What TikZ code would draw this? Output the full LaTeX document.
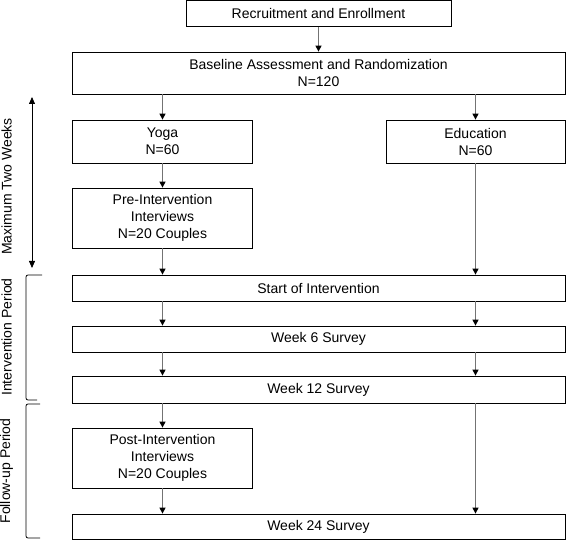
\documentclass[tikz,border=0pt]{standalone}
\usepackage{fontspec}
\setmainfont{Liberation Sans}
\usetikzlibrary{arrows.meta}

\tikzset{
  stage/.style={draw,line width=0.8pt,rectangle,inner sep=0pt,align=center,
    font=\fontsize{14}{17}\selectfont},
  flow/.style={draw=black!55,line width=1.2pt,
    -{Triangle[width=6pt,length=6pt,color=black,fill=black]}},
  period/.style={rotate=90,inner sep=0pt,font=\fontsize{14}{17}\selectfont},
  bracket/.style={draw,line width=0.8pt,rounded corners=2pt},
}

\begin{document}
\begin{tikzpicture}[x=1pt,y=-1pt]
\useasboundingbox (0,0) rectangle (566,540);

% boxes
\node[stage,minimum width=265,minimum height=26] (recruit) at (318.5,13.5) {Recruitment and Enrollment};
\node[stage,minimum width=493,minimum height=42] (baseline) at (318.5,73) {Baseline Assessment and Randomization\\N=120};
\node[stage,minimum width=180,minimum height=43] (yoga) at (162.5,141.5) {Yoga\\N=60};
\node[stage,minimum width=179,minimum height=43] (educ) at (475.5,141.5) {Education\\N=60};
\node[stage,minimum width=180,minimum height=60] (preint) at (162.5,218) {Pre-Intervention\\Interviews\\N=20 Couples};
\node[stage,minimum width=493,minimum height=26] (start) at (318.5,288) {Start of Intervention};
\node[stage,minimum width=493,minimum height=26] (week6) at (318.5,339) {Week 6 Survey};
\node[stage,minimum width=493,minimum height=27] (week12) at (318.5,389.5) {Week 12 Survey};
\node[stage,minimum width=180,minimum height=60] (postint) at (162.5,458) {Post-Intervention\\Interviews\\N=20 Couples};
\node[stage,minimum width=493,minimum height=25] (week24) at (318.5,526.5) {Week 24 Survey};

% arrows
\draw[flow] (recruit.south) -- (baseline.north);
\draw[flow] (baseline.south -| yoga.north) -- (yoga.north);
\draw[flow] (baseline.south -| educ.north) -- (educ.north);
\draw[flow] (yoga.south) -- (preint.north);
\draw[flow] (preint.south) -- (start.north -| preint.south);
\draw[flow] (educ.south) -- (start.north -| educ.south);
\draw[flow] (start.south -| yoga.south) -- (week6.north -| yoga.south);
\draw[flow] (start.south -| educ.south) -- (week6.north -| educ.south);
\draw[flow] (week6.south -| yoga.south) -- (week12.north -| yoga.south);
\draw[flow] (week6.south -| educ.south) -- (week12.north -| educ.south);
\draw[flow] (week12.south -| postint.north) -- (postint.north);
\draw[flow] (postint.south) -- (week24.north -| postint.south);
\draw[flow] (week12.south -| educ.south) -- (week24.north -| educ.south);

% periods on the left
\coordinate (twotop) at (32,97);
\coordinate (twobot) at (32,268);
\draw[line width=0.8pt,{Triangle[width=6pt,length=7pt]}-{Triangle[width=6pt,length=7pt]}] (twotop) -- (twobot);
\node[period] (twoweeks) at (6.5,186.5) {Maximum Two Weeks};

\draw[bracket] (42,275) -- (26,275) -- (26,400) -- (37,400);
\node[period] (interv) at (6.5,337) {Intervention Period};

\draw[bracket] (40,404) -- (26,404) -- (26,538) -- (40,538);
\node[period] (follow) at (6.5,471) {Follow-up Period};
\end{tikzpicture}
\end{document}
